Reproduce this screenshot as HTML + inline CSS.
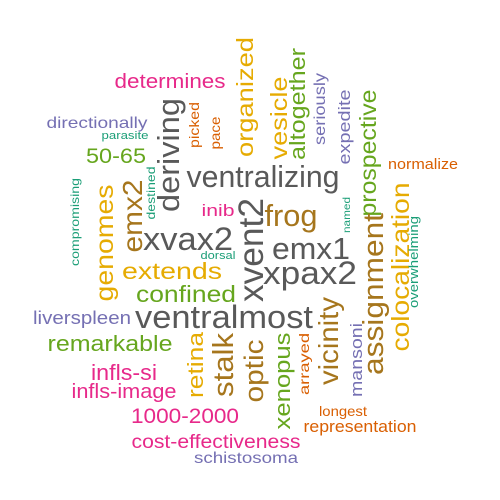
<!DOCTYPE html>
<html>
<head>
<meta charset="utf-8">
<style>
  html, body { margin: 0; padding: 0; background: #ffffff; }
  svg { display: block; }
  text { font-family: "Liberation Sans", Arial, sans-serif; }
</style>
</head>
<body>
<svg width="500" height="500" viewBox="0 0 500 500" xmlns="http://www.w3.org/2000/svg">
  <rect width="500" height="500" fill="#ffffff"/>
  <g id="words"></g>
</svg>
<script>
// Word cloud layout: [word, colour, font-size, rotated, x, y, length]
// Horizontal words: x = centre, y = baseline. Vertical words: x = baseline (right side), y = centre.
var words = [
  ["determines", "#E7298A", 20, 0, 170, 88, 111],
  ["directionally", "#7570B3", 16, 0, 97, 128, 101],
  ["parasite", "#1B9E77", 11, 0, 125, 139, 47],
  ["50-65", "#66A61E", 21, 0, 116, 163, 60],
  ["inib", "#E7298A", 17, 0, 218, 216, 33],
  ["xvax2", "#595959", 32, 0, 188, 250, 90],
  ["dorsal", "#1B9E77", 11, 0, 218, 259, 35],
  ["ventralizing", "#595959", 31, 0, 263, 187, 153],
  ["frog", "#A6761D", 31, 0, 291, 226, 53],
  ["emx1", "#595959", 31, 0, 311, 259, 78],
  ["normalize", "#D95F02", 15, 0, 423, 169, 70],
  ["xpax2", "#595959", 32, 0, 310, 284, 94],
  ["ventralmost", "#595959", 32, 0, 224, 328, 178],
  ["extends", "#E6AB02", 23, 0, 172, 279, 100],
  ["confined", "#66A61E", 23, 0, 186, 302, 100],
  ["liverspleen", "#7570B3", 18, 0, 82, 324, 98],
  ["remarkable", "#66A61E", 22, 0, 110, 351, 125],
  ["infls-si", "#E7298A", 22, 0, 124, 380, 66],
  ["infls-image", "#E7298A", 20, 0, 124, 398, 105],
  ["1000-2000", "#E7298A", 21, 0, 185, 423, 108],
  ["cost-effectiveness", "#E7298A", 19, 0, 216, 448, 169],
  ["schistosoma", "#7570B3", 16, 0, 246, 463, 104],
  ["longest", "#D95F02", 14, 0, 343, 416, 48],
  ["representation", "#D95F02", 17, 0, 360, 432, 113],

  ["organized", "#E6AB02", 23, 1, 253, 97, 120],
  ["picked", "#D95F02", 14, 1, 199, 125, 46],
  ["pace", "#D95F02", 14, 1, 220, 133, 33],
  ["deriving", "#595959", 31, 1, 179, 155, 114],
  ["destined", "#1B9E77", 12, 1, 155, 193, 53],
  ["emx2", "#A6761D", 28, 1, 142, 216, 73],
  ["genomes", "#E6AB02", 25, 1, 113, 243, 117],
  ["compromising", "#1B9E77", 12, 1, 79, 222, 88],
  ["xvent2", "#595959", 35, 1, 263, 250, 104],
  ["vesicle", "#E6AB02", 23, 1, 287, 118, 83],
  ["altogether", "#66A61E", 22, 1, 305, 104, 112],
  ["seriously", "#7570B3", 16, 1, 325, 109, 72],
  ["expedite", "#7570B3", 17, 1, 350, 127, 75],
  ["prospective", "#66A61E", 23, 1, 376, 153, 127],
  ["named", "#1B9E77", 10, 1, 350, 215, 36],
  ["colocalization", "#E6AB02", 25, 1, 409, 267, 169],
  ["overwhelming", "#1B9E77", 13, 1, 418, 262, 92],
  ["assignment", "#A6761D", 29, 1, 383, 294, 162],
  ["vicinity", "#A6761D", 28, 1, 338, 341, 88],
  ["mansoni", "#7570B3", 17, 1, 362, 360, 74],
  ["arrayed", "#D95F02", 14, 1, 309, 364, 62],
  ["xenopus", "#66A61E", 22, 1, 290, 381, 97],
  ["optic", "#A6761D", 27, 1, 263, 371, 63],
  ["stalk", "#A6761D", 29, 1, 233, 365, 64],
  ["retina", "#E6AB02", 22, 1, 203, 365, 66]
];

var NS = "http://www.w3.org/2000/svg";
var g = document.getElementById("words");
words.forEach(function (w) {
  var t = document.createElementNS(NS, "text");
  t.textContent = w[0];
  t.setAttribute("fill", w[1]);
  t.setAttribute("font-size", w[2]);
  t.setAttribute("text-anchor", "middle");
  t.setAttribute("textLength", w[6]);
  t.setAttribute("lengthAdjust", "spacingAndGlyphs");
  if (w[3]) {
    t.setAttribute("x", 0);
    t.setAttribute("y", 0);
    t.setAttribute("transform", "translate(" + w[4] + "," + w[5] + ") rotate(-90)");
  } else {
    t.setAttribute("x", w[4]);
    t.setAttribute("y", w[5]);
  }
  
  
  g.appendChild(t);
});
</script>
</body>
</html>
